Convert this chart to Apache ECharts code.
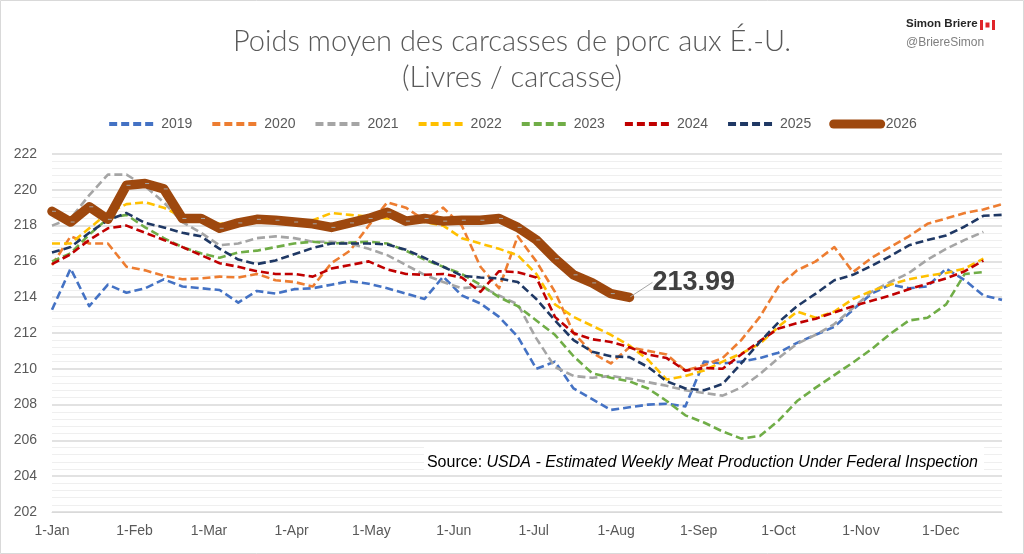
<!DOCTYPE html>
<html><head><meta charset="utf-8">
<script src="https://cdn.jsdelivr.net/npm/echarts@6/dist/echarts.min.js"></script>
<style>html,body{margin:0;padding:0;background:#fff}#c{width:1024px;height:554px}</style>
</head><body><div id="c"></div>
<script>
const monthLabels = ['1-Jan','1-Feb','1-Mar','1-Apr','1-May','1-Jun','1-Jul','1-Aug','1-Sep','1-Oct','1-Nov','1-Dec'];
const monthDays = [0,31,59,90,120,151,181,212,243,273,304,334];
const yTicks = [202,204,206,208,210,212,214,216,218,220,222];
const years = ['2019','2020','2021','2022','2023','2024','2025','2026'];
const colors = ['#4472C4','#ED7D31','#A5A5A5','#FFC000','#70AD47','#C00000','#1F3864','#9E480E'];

const y2019 = [213.3,215.6,213.5,214.7,214.25,214.5,215.0,214.6,214.5,214.4,
  213.7,214.35,214.2,214.45,214.5,214.7,214.9,214.75,214.5,214.2,
  213.9,215.15,214.1,213.65,212.9,211.8,210.0,210.4,208.9,208.3,
  207.7,207.85,208.0,208.05,207.9,210.4,210.3,210.4,210.6,210.9,
  211.45,211.9,212.35,213.3,214.2,214.7,214.5,214.6,215.6,214.95,214.1,213.85];
const y2020 = [215.8,217.4,217.0,217.0,215.7,215.5,215.2,215.0,215.05,215.15,
  215.1,215.3,214.95,214.85,214.6,215.9,216.6,218.0,219.3,219.0,
  218.3,219.0,218.0,215.7,214.5,217.4,216.0,214.3,212.0,210.9,
  210.3,211.2,211.0,210.8,209.9,210.2,210.6,211.6,212.9,214.6,
  215.5,216.0,216.8,215.4,216.2,216.8,217.4,218.1,218.4,218.7,218.9,219.2];
const y2021 = [218.0,218.4,219.7,220.85,220.85,220.2,219.3,218.2,217.6,216.9,
  217.0,217.3,217.4,217.3,217.1,217.1,217.0,216.7,216.35,215.8,
  215.25,214.85,214.5,214.6,214.1,213.6,211.7,210.1,209.6,209.5,
  209.6,209.45,209.25,209.05,208.8,208.65,208.5,208.95,209.7,210.6,
  211.4,211.9,212.5,213.4,214.3,214.85,215.35,216.1,216.7,217.2,217.65];
const y2022 = [217.0,217.0,217.85,218.7,219.2,219.3,219.0,218.5,218.3,218.1,
  218.2,218.3,218.3,218.2,218.3,218.7,218.6,218.5,218.4,218.3,
  218.2,218.0,217.3,217.0,216.7,216.35,215.3,213.6,212.9,212.4,
  211.9,211.3,210.5,209.4,209.6,209.9,210.4,210.85,211.4,212.35,
  213.2,212.85,213.2,213.9,214.35,214.7,215.0,215.2,215.35,215.6,216.15];
const y2023 = [216.0,216.45,217.5,218.4,218.6,217.9,217.3,216.8,216.45,216.2,
  216.5,216.6,216.8,217.0,217.1,217.0,217.05,217.1,217.0,216.6,
  216.1,215.7,215.3,214.7,214.0,213.5,212.7,211.9,210.7,209.75,
  209.5,209.3,208.9,208.2,207.4,207.0,206.5,206.1,206.25,207.1,
  208.2,208.95,209.65,210.35,211.1,211.95,212.7,212.85,213.6,215.3,215.4];
const y2024 = [215.85,216.4,217.2,217.85,218.0,217.6,217.2,216.8,216.35,215.9,
  215.7,215.45,215.3,215.3,215.15,215.6,215.8,216.0,215.55,215.3,
  215.25,215.3,215.1,214.3,215.45,215.4,215.1,212.9,212.0,211.65,
  211.5,211.2,210.8,210.6,209.9,210.05,210.0,210.8,211.55,212.25,
  212.55,212.8,213.15,213.5,213.8,214.1,214.45,214.75,215.05,215.45,216.05];
const y2025 = [216.5,216.8,217.6,218.3,218.7,218.15,217.9,217.6,217.4,216.7,
  216.1,215.85,216.05,216.4,216.75,217.0,217.0,217.0,216.95,216.65,
  216.2,215.7,215.2,215.1,215.05,214.85,213.9,212.7,211.6,210.95,
  210.7,210.65,210.1,209.3,208.9,208.8,209.15,210.3,211.5,212.6,
  213.5,214.2,214.95,215.25,215.75,216.3,216.9,217.2,217.45,217.95,218.55,218.6];
const y2026 = [218.8,218.2,219.05,218.35,220.25,220.35,220.05,218.4,218.4,217.85,
  218.15,218.35,218.3,218.2,218.1,217.9,218.15,218.4,218.75,218.25,
  218.4,218.25,218.3,218.3,218.4,217.9,217.2,216.15,215.25,214.8,
  214.2,213.99];
const allValues = [y2019,y2020,y2021,y2022,y2023,y2024,y2025,y2026];
const weekStep = 7;

const FONT = 'Liberation Sans';
const series = allValues.map((vals, si) => {
  const isLast = si === 7;
  const li = vals.length - 1;
  const data = vals.map((v, i) => [i * weekStep, v]);
  const s = {
    name: years[si], type: 'line', data: data, smooth: false,
    symbol: 'none',
    z: isLast ? 10 : 2 + si,
    lineStyle: isLast
      ? {color: colors[si], width: 9.5, cap: 'round', join: 'round'}
      : {color: colors[si], width: 2.6, type: [8, 4], cap: 'butt', join: 'round'},
    itemStyle: {color: colors[si]},
    emphasis: {disabled: true}
  };
  if (isLast) {
    s.symbol = 'circle';
    s.showSymbol = true;
    s.showAllSymbol = true;
    s.symbolSize = (v, p) => (p.dataIndex === li ? 2 : 0);
    s.label = {
      show: true, position: 'right', distance: 4,
      formatter: p => (p.dataIndex === li ? p.value[1].toFixed(2) : ''),
      fontFamily: FONT, fontSize: 27, fontWeight: 'bold', color: '#404040'
    };
    s.labelLine = {show: true, lineStyle: {color: '#A6A6A6', width: 1}};
    s.labelLayout = p => (p.dataIndex === li ? {dx: 18, dy: -15} : {});
  }
  return s;
});

const chart = echarts.init(document.getElementById('c'));
chart.setOption({
  animation: false,
  backgroundColor: '#fff',
  title: {
    text: 'Poids moyen des carcasses de porc aux É.-U.\n(Livres / carcasse)',
    left: 'center', top: 19,
    textStyle: {fontFamily: 'Lato', fontWeight: 300, fontSize: 29, color: '#595959', lineHeight: 36}
  },
  legend: {
    data: years.map((y, i) => i === 7 ? {name: y, lineStyle: {width: 9}} : {name: y}),
    top: 112, left: 'center',
    itemWidth: 47, itemHeight: 14, itemGap: 18,
    itemStyle: {opacity: 0},
    lineStyle: {width: 4},
    textStyle: {fontFamily: FONT, fontSize: 14, color: '#595959'}
  },
  grid: {left: 52, right: 22, top: 154, bottom: 42},
  xAxis: {
    type: 'value', min: 0, max: 357,
    splitLine: {show: false},
    axisLine: {show: true, lineStyle: {color: '#D9D9D9'}},
    axisTick: {show: false},
    axisLabel: {
      customValues: monthDays,
      formatter: v => monthLabels[monthDays.indexOf(v)],
      fontFamily: FONT, fontSize: 14, color: '#595959', margin: 12
    }
  },
  yAxis: {
    type: 'value', min: 202, max: 222, interval: 2,
    axisLine: {show: false}, axisTick: {show: false},
    axisLabel: {fontFamily: FONT, fontSize: 14, color: '#595959', margin: 15,
      formatter: v => yTicks.includes(v) ? String(v) : ''},
    splitLine: {show: true, lineStyle: {color: '#D9D9D9', width: 1.5}},
    minorTick: {show: false, splitNumber: 5},
    minorSplitLine: {show: true, lineStyle: {color: '#EFEFEF', width: 1}}
  },
  series: series,
  graphic: [
    {type: 'rect', shape: {x: 0.5, y: 0.5, width: 1023, height: 553}, style: {fill: 'none', stroke: '#D9D9D9', lineWidth: 1}, silent: true, z: 100},
    {type: 'text', left: 906, top: 18, style: {text: 'Simon Briere', fontFamily: FONT, fontSize: 11.5, fontWeight: 'bold', fill: '#262626'}},
    {type: 'rect', shape: {x: 980, y: 20, width: 3, height: 10}, style: {fill: '#E0252A'}},
    {type: 'rect', shape: {x: 992, y: 20, width: 3, height: 10}, style: {fill: '#E0252A'}},
    {type: 'rect', shape: {x: 985.5, y: 22.5, width: 4, height: 5}, style: {fill: '#E0252A'}},
    {type: 'text', left: 906, top: 37, style: {text: '@BriereSimon', fontFamily: FONT, fontSize: 12, fill: '#7F7F7F'}},
    {type: 'rect', z: 50, shape: {x: 424, y: 446, width: 560, height: 27}, style: {fill: '#fff'}},
    {type: 'text', z: 51, right: 46, top: 455, style: {
      rich: {n: {fontFamily: FONT, fontSize: 16, fill: '#000'}, i: {fontFamily: FONT, fontSize: 16, fontStyle: 'italic', fill: '#000'}},
      text: '{n|Source: }{i|USDA - Estimated Weekly Meat Production Under Federal Inspection}'
    }}
  ]
});
</script></body></html>
